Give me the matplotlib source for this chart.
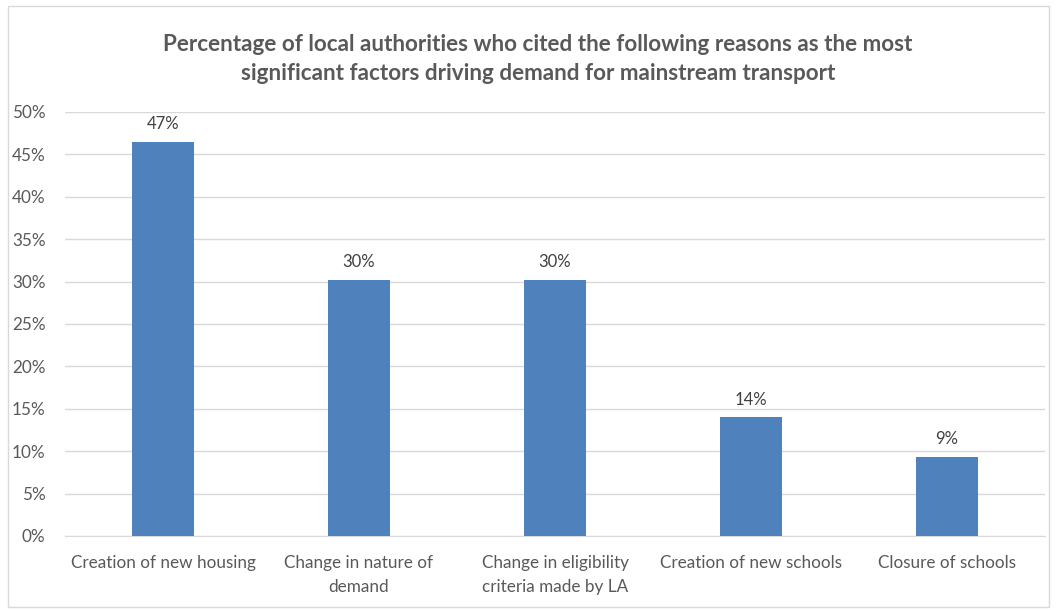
import matplotlib.pyplot as plt
from matplotlib.patches import Rectangle
from matplotlib.ticker import MultipleLocator, FuncFormatter

categories = ["Creation of new housing", "Change in nature of\ndemand",
              "Change in eligibility\ncriteria made by LA", "Creation of new schools",
              "Closure of schools"]
values = [46.5, 30.2, 30.2, 14.0, 9.3]
labels = ["47%", "30%", "30%", "14%", "9%"]
title = ("Percentage of local authorities who cited the following reasons as the most\n"
         "significant factors driving demand for mainstream transport")

plt.rcParams['font.family'] = ['Lato', 'DejaVu Sans']
W, H = 1056, 610
fig = plt.figure(figsize=(W/100, H/100), dpi=100)
ax = fig.add_axes([65/W, 1-536/H, (1045-65)/W, (536-112)/H])

x = list(range(len(categories)))
bars = ax.bar(x, values, width=0.315, color="#4F81BD", zorder=3)
for b, lab in zip(bars, labels):
    ax.annotate(lab, (b.get_x()+b.get_width()/2, b.get_height()), xytext=(0, 7),
                textcoords="offset points", ha="center", va="bottom",
                fontsize=12, color="#404040")

ax.set_ylim(0, 50)
ax.set_xlim(-0.5, len(categories)-0.5)
ax.yaxis.set_major_locator(MultipleLocator(5))
ax.yaxis.set_major_formatter(FuncFormatter(lambda v, p: f"{v:.0f}%"))
ax.grid(axis="y", color="#D9D9D9", linewidth=1, zorder=0)
for s in ["top", "right", "left"]:
    ax.spines[s].set_visible(False)
ax.spines["bottom"].set_color("#D9D9D9")
ax.tick_params(axis="both", length=0, labelsize=12.3, colors="#595959")
ax.tick_params(axis="x", pad=14)
ax.tick_params(axis="y", pad=14)
ax.set_xticks(x)
ax.set_xticklabels(categories, linespacing=1.6)

fig.text(538/W, 1-59/H, title, ha="center", va="center", fontsize=16.2,
         fontweight="bold", color="#595959", linespacing=1.5)

fig.patches.append(Rectangle((8/W, 3/H), (1049-8)/W, (604-3)/H, transform=fig.transFigure,
                             fill=False, edgecolor="#D9D9D9", linewidth=1))

fig.savefig("out.png", dpi=100, facecolor="white")
